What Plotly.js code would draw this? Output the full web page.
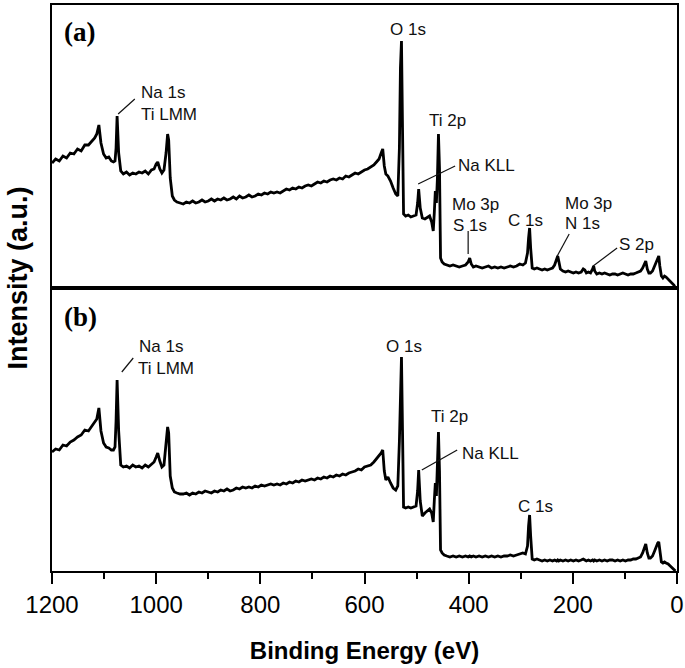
<!DOCTYPE html>
<html>
<head>
<meta charset="utf-8">
<script src="https://cdn.plot.ly/plotly-3.0.1.min.js"></script>
<style>html,body{margin:0;padding:0;background:#fff}#chart{width:685px;height:668px}</style>
</head>
<body>
<div id="chart"></div>
<script>
// Binding energy grid (eV), shared by both spectra
const bindingEnergy = [
  1200,1193,1186,1179,1172,1165,1158,1151,1144,1137,
  1130,1124,1118,1114,1110,1106,1101,1096,1091,1086,
  1082,1079,1077,1075,1072,1068,1063,1057,1051,1045,
  1039,1033,1027,1021,1015,1009,1004,1000,997,993,
  989,985,981,978,976,973,969,965,960,954,
  948,942,936,930,924,918,912,906,900,894,
  888,882,876,870,864,858,852,846,840,834,
  828,822,816,810,804,798,792,786,780,774,
  768,762,756,750,744,738,732,726,720,714,
  708,702,696,690,684,678,672,666,660,654,
  648,642,636,630,624,618,612,606,600,594,
  588,582,577,572,568,565,562,559,555,550,
  545,540,536,533,531,529,527,525,521,516,
  511,506,501,498,496,493,489,484,479,475,
  471,468,466,464,462,460,458,456,454,451,
  447,442,436,430,424,418,412,406,401,398,
  395,391,386,380,374,368,362,356,350,344,
  338,332,326,320,314,308,302,296,291,287,
  285,283,281,278,274,269,264,259,254,249,
  244,239,235,231,229,227,224,219,214,209,
  204,199,194,189,184,180,177,174,170,166,
  162,160,158,154,149,144,139,134,129,124,
  119,114,109,104,99,94,89,84,79,74,
  70,66,63,60,57,54,51,47,43,39,
  37,35,33,30,27,24,21,17,13,9,
  6,3
];
// Spectrum (a), arbitrary units
const intensityA = [
  125,129,127,132,130,135,134,139,137,143,
  143,147,150,154,163,145,134,130,131,127,
  126,127,140,172,135,117,114,116,113,115,
  114,116,115,117,114,118,119,124,126,119,
  115,118,135,154,148,110,92,88,86,85,
  84,86,85,87,85,86,88,86,87,89,
  87,89,88,90,88,89,91,89,92,90,
  91,93,91,92,94,93,95,94,96,95,
  96,95,97,99,98,100,99,101,100,102,
  103,102,104,106,105,107,106,108,109,108,
  110,109,112,111,113,115,114,116,118,119,
  121,123,126,129,135,139,122,114,112,107,
  100,94,92,140,220,247,160,74,72,73,
  71,72,73,85,99,80,70,69,71,72,
  66,57,75,97,85,110,154,120,30,26,
  24,23,22,23,22,21,22,23,26,30,
  24,21,22,21,20,21,22,20,21,20,
  21,20,21,22,21,22,24,23,25,35,
  50,60,40,20,19,20,19,18,19,18,
  19,20,23,28,32,27,19,17,16,17,
  16,15,16,15,16,19,18,15,16,15,
  19,22,17,14,15,14,15,14,13,14,
  14,13,14,15,14,13,14,14,15,16,
  17,20,24,27,19,15,15,17,22,28,
  31,32,22,12,10,12,11,9,7,5,
  3,0
];
// Spectrum (b), arbitrary units
const intensityB = [
  119,122,121,126,125,129,131,134,136,141,
  140,145,149,152,163,140,128,124,123,121,
  121,124,150,191,140,106,104,105,103,106,
  104,105,103,106,104,107,109,114,118,110,
  104,106,125,144,138,95,83,79,78,77,
  77,78,76,78,77,79,78,80,79,78,
  80,79,81,80,82,80,81,83,82,84,
  83,84,83,85,84,86,85,86,87,86,
  87,86,88,87,89,88,90,89,91,90,
  91,92,91,93,92,94,93,95,94,96,
  95,97,96,98,99,100,102,101,104,105,
  106,109,112,115,118,121,100,91,94,88,
  83,81,85,130,195,214,140,64,63,64,
  63,64,65,80,101,70,55,58,60,62,
  58,49,70,88,75,100,139,100,21,18,
  16,15,14,15,14,15,14,15,14,15,
  14,15,14,15,14,15,14,15,14,15,
  14,15,15,16,15,16,17,18,17,25,
  45,56,35,12,11,12,11,10,11,10,
  11,10,11,10,11,10,11,10,11,10,
  11,10,11,10,11,12,11,10,11,10,
  11,10,11,10,11,10,11,10,11,11,
  10,11,10,11,10,11,11,12,12,13,
  14,18,23,27,18,13,13,15,20,26,
  28,29,20,9,8,9,8,7,5,3,
  2,0
];
const xTickVals = [1200,1000,800,600,400,200,0];
const xTickText = ["1200","1000","800","600","400","200","0"];

// Peak labels: [text, energy, intensity, anchor]
const labelsA = [
  ["Na 1s",1033,196,"left"],["Ti LMM",1033,174,"left"],
  ["O 1s",516,259,"center"],["Ti 2p",440,168,"center"],
  ["Na KLL",424,123,"left"],["Mo 3p",436,84,"left"],["S 1s",434,63,"left"],
  ["C 1s",290,68,"center"],["Mo 3p",219,85,"left"],["N 1s",219,65,"left"],
  ["S 2p",115,44,"left"]
];
const leadersA = [[1073,174,1041,189],[497,104,426,122],[401,57,401,34],[207,54,230,32],[115,40,161,22]];
const labelsB = [
  ["Na 1s",1037,225,"left"],["Ti LMM",1039,203,"left"],
  ["O 1s",524,225,"center"],["Ti 2p",436,155,"center"],
  ["Na KLL",417,118,"left"],["C 1s",271,65,"center"]
];
const leadersB = [[1066,199,1044,213],[490,101,422,121]];

const FONT = "Liberation Sans, Arial, sans-serif";
const traces = [
  {x: bindingEnergy, y: intensityA, xaxis: "x2", yaxis: "y2", mode: "lines",
   line: {color: "#000", width: 2.8}, hoverinfo: "skip"},
  {x: bindingEnergy, y: intensityB, xaxis: "x", yaxis: "y", mode: "lines",
   line: {color: "#000", width: 2.8}, hoverinfo: "skip"}
];
const annotations = [];
const shapes = [];
function addLabels(list, xr, yr) {
  list.forEach(l => annotations.push({text: l[0], x: l[1], y: l[2], xref: xr, yref: yr,
    xanchor: l[3], yanchor: "middle", showarrow: false,
    font: {family: FONT, size: 17, color: "#111"}}));
}
function addLeaders(list, xr, yr) {
  list.forEach(s => shapes.push({type: "line", xref: xr, yref: yr,
    x0: s[0], y0: s[1], x1: s[2], y1: s[3], line: {color: "#111", width: 1.2}}));
}
addLabels(labelsA, "x2", "y2"); addLeaders(leadersA, "x2", "y2");
addLabels(labelsB, "x", "y"); addLeaders(leadersB, "x", "y");
annotations.push({text: "<b>(a)</b>", x: 1181, y: 256, xref: "x2", yref: "y2", xanchor: "left",
  yanchor: "middle", showarrow: false, font: {family: "Liberation Serif, Times New Roman, serif", size: 27, color: "#000"}});
annotations.push({text: "<b>(b)</b>", x: 1181, y: 254, xref: "x", yref: "y", xanchor: "left",
  yanchor: "middle", showarrow: false, font: {family: "Liberation Serif, Times New Roman, serif", size: 27, color: "#000"}});
annotations.push({text: "<b>Intensity (a.u.)</b>", xref: "paper", yref: "paper", x: -0.055, y: 0.518,
  xanchor: "center", yanchor: "middle", textangle: -90, showarrow: false,
  font: {family: FONT, size: 27, color: "#000"}});

const axisLine = {showline: true, linecolor: "#000", linewidth: 2, mirror: true, showgrid: false, zeroline: false};
const layout = {
  width: 685, height: 668, paper_bgcolor: "#fff", plot_bgcolor: "#fff",
  margin: {l: 52, r: 8, t: 5, b: 97}, showlegend: false,
  xaxis: Object.assign({}, axisLine, {range: [1200, 0], anchor: "y", ticks: "outside", ticklen: 11, tickwidth: 2,
    tickcolor: "#000", tickvals: xTickVals, ticktext: xTickText,
    minor: {dtick: 100, ticks: "outside", ticklen: 6, tickwidth: 2, tickcolor: "#000"},
    tickfont: {family: FONT, size: 24, color: "#000"},
    title: {text: "<b>Binding Energy (eV)</b>", font: {family: FONT, size: 24, color: "#000"}, standoff: 25}}),
  xaxis2: Object.assign({}, axisLine, {range: [1200, 0], anchor: "y2", matches: "x", showticklabels: false, ticks: ""}),
  yaxis: Object.assign({}, axisLine, {domain: [0, 0.5], range: [0, 283], showticklabels: false, ticks: ""}),
  yaxis2: Object.assign({}, axisLine, {domain: [0.5, 1], range: [0, 283], showticklabels: false, ticks: ""}),
  annotations: annotations, shapes: shapes
};
Plotly.newPlot("chart", traces, layout, {staticPlot: true, displayModeBar: false});
</script>
</body>
</html>
